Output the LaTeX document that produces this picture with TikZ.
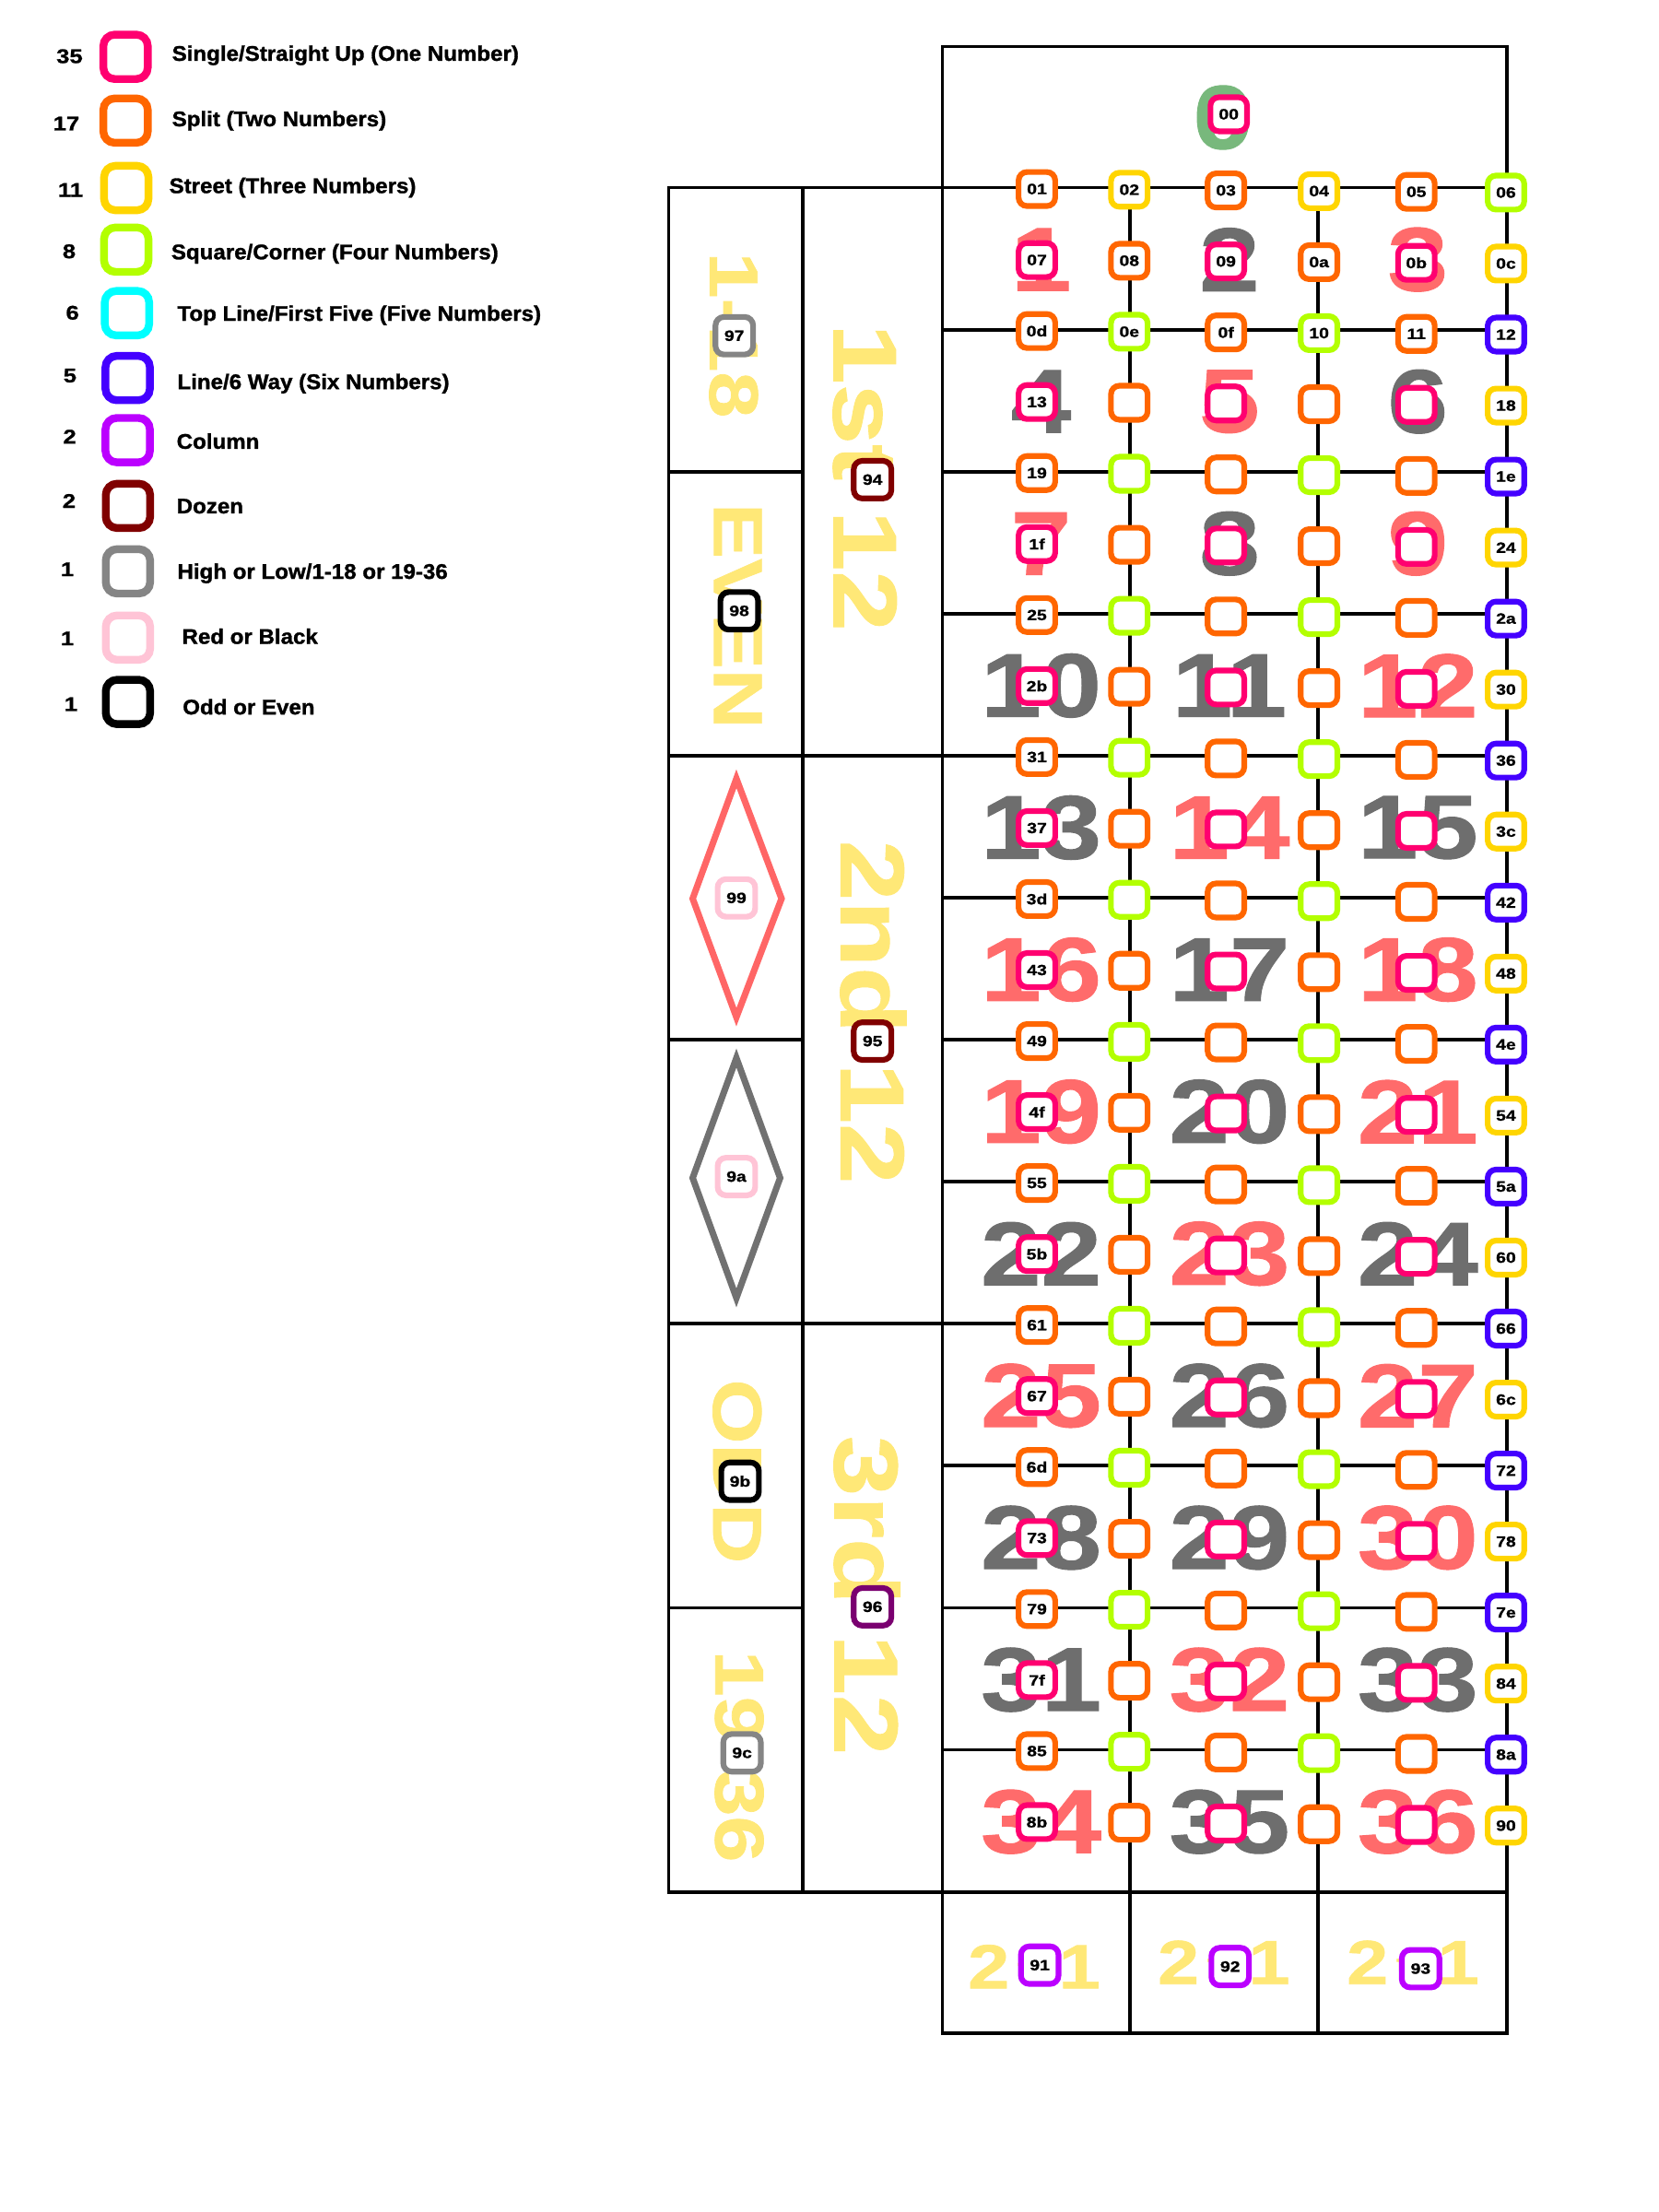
\documentclass[tikz,border=0pt]{standalone}
\usepackage{fontspec}
\setmainfont{Liberation Sans}
\newfontfamily\blk[FakeStretch=1.2,FakeBold=1]{Liberation Sans}
\newfontfamily\leg[FakeStretch=1.05,FakeBold=1.3]{Liberation Sans}
\newcommand\myfs[1]{\fontsize{#1}{#1}\selectfont}
\definecolor{cSingle}{HTML}{FF0070}
\definecolor{cSplit}{HTML}{FF6600}
\definecolor{cStreet}{HTML}{FFD500}
\definecolor{cCorner}{HTML}{B3FF00}
\definecolor{cFive}{HTML}{00FFFF}
\definecolor{cLine}{HTML}{4400FF}
\definecolor{cColumn}{HTML}{BB00FF}
\definecolor{cDozen}{HTML}{800000}
\definecolor{cDozenB}{HTML}{7A0070}
\definecolor{cHigh}{HTML}{858585}
\definecolor{cRB}{HTML}{FFC4D6}
\definecolor{cNumRed}{HTML}{FF6B6B}
\definecolor{cNumBlk}{HTML}{6E6E6E}
\definecolor{cZero}{HTML}{78B87C}
\definecolor{cYel}{HTML}{FFE877}
\definecolor{cDiaR}{HTML}{FF6666}
\definecolor{cDiaB}{HTML}{717171}
\begin{document}
\begin{tikzpicture}[x=0.0153061cm,y=-0.0153061cm,
  bet/.style={draw=#1, fill=white, line width=1.75pt, rounded corners=2.6pt,
    minimum width=11.3pt, minimum height=10.5pt, inner sep=0pt,
    font=\blk\bfseries\myfs{4.6}},
  sbet/.style={bet=#1, minimum width=11.6pt, minimum height=11.6pt},
  legbox/.style={draw=#1, fill=white, line width=2.4pt, rounded corners=3.5pt,
    minimum size=13.7pt, inner sep=0pt},
  tbl/.style={line width=1.1pt},
  bignum/.style={text=#1, inner sep=0pt, font=\blk\bfseries\myfs{27.9}},
  vtxt/.style={text=cYel, rotate=-90, inner sep=0pt, font=\blk\bfseries\myfs{#1}},
  coltxt/.style={text=cYel, inner sep=0pt, font=\blk\bfseries\myfs{19.2}},
  legtxt/.style={anchor=base west, inner sep=0pt, font=\leg\bfseries\myfs{6.53}},
  legcnt/.style={anchor=base, inner sep=0pt, font=\blk\bfseries\myfs{6.1}},
  diamond/.style={line width=2pt, line join=miter}
]
\fill[white] (0,0) rectangle (1176,1568);
\useasboundingbox (0,0) rectangle (1176,1568);

% ---------------- legend ----------------
\node[legbox=cSingle] (lb1) at (89,40.3) {};
\node[legcnt] (lc1) at (49.3,44.7) {35};
\node[legtxt] (lt1) at (121.5,43.1) {Single/Straight Up (One Number)};
\node[legbox=cSplit] (lb2) at (89,85.5) {};
\node[legcnt] (lc2) at (47,92.4) {17};
\node[legtxt] (lt2) at (121.5,89.5) {Split (Two Numbers)};
\node[legbox=cStreet] (lb3) at (89.5,133.3) {};
\node[legcnt] (lc3) at (50,139.5) {11};
\node[legtxt] (lt3) at (119.5,136.9) {Street (Three Numbers)};
\node[legbox=cCorner] (lb4) at (89.5,177) {};
\node[legcnt] (lc4) at (49,183) {8};
\node[legtxt] (lt4) at (121,183.8) {Square/Corner (Four Numbers)};
\node[legbox=cFive] (lb5) at (90,222) {};
\node[legcnt] (lc5) at (51.4,226.5) {6};
\node[legtxt] (lt5) at (125.3,227.4) {Top Line/First Five (Five Numbers)};
\node[legbox=cLine] (lb6) at (90.5,268) {};
\node[legcnt] (lc6) at (49.6,271) {5};
\node[legtxt] (lt6) at (125.3,275.8) {Line/6 Way (Six Numbers)};
\node[legbox=cColumn] (lb7) at (90.5,312) {};
\node[legcnt] (lc7) at (49.4,314.4) {2};
\node[legtxt] (lt7) at (124.8,318.1) {Column};
\node[legbox=cDozen] (lb8) at (90.7,358.6) {};
\node[legcnt] (lc8) at (49,360) {2};
\node[legtxt] (lt8) at (124.8,363.9) {Dozen};
\node[legbox=cHigh] (lb9) at (90.7,405) {};
\node[legcnt] (lc9) at (47.7,408.4) {1};
\node[legtxt] (lt9) at (125.3,410.3) {High or Low/1-18 or 19-36};
\node[legbox=cRB] (lb10) at (90.7,452) {};
\node[legcnt] (lc10) at (47.7,457.4) {1};
\node[legtxt] (lt10) at (128.6,456.4) {Red or Black};
\node[legbox=black] (lb11) at (90.7,497.6) {};
\node[legcnt] (lc11) at (50.3,504) {1};
\node[legtxt] (lt11) at (129.1,506.4) {Odd or Even};

% ---------------- big numbers ----------------
\node[bignum=cZero] (n0) at (867,83.3) {0};
\foreach \n in {1,3,5,7,9,12,14,16,18,19,21,23,25,27,30,32,34,36}{
  \pgfmathtruncatemacro\nr{int((\n-1)/3)}
  \pgfmathtruncatemacro\nc{mod(\n-1,3)}
  \pgfmathsetmacro\numx{738+133.5*\nc}
  \pgfmathsetmacro\numy{184+100.67*\nr}
  \node[bignum=cNumRed] (n\n) at (\numx,\numy) {\n};
}
\foreach \n in {2,4,6,8,10,11,13,15,17,20,22,24,26,28,29,31,33,35}{
  \pgfmathtruncatemacro\nr{int((\n-1)/3)}
  \pgfmathtruncatemacro\nc{mod(\n-1,3)}
  \pgfmathsetmacro\numx{738+133.5*\nc}
  \pgfmathsetmacro\numy{184+100.67*\nr}
  \node[bignum=cNumBlk] (n\n) at (\numx,\numy) {\n};
}

% ---------------- side texts ----------------
\node[vtxt=21.3] (tLow) at (520,237.5) {1-18};
\node[vtxt=21.3] (tEven) at (523,436.7) {EVEN};
\node[vtxt=21.3] (tOdd) at (522.5,1043) {ODD};
\node[vtxt=21.3] (tHigh) at (524,1245) {19-36};
\node[vtxt=27.9] (tD1) at (613,338.5) {1st 12};
\node[vtxt=27.9] (tD2) at (619,717.5) {2nd 12};
\node[vtxt=27.9] (tD3) at (614.5,1131) {3rd 12};
\node[coltxt] (tC1) at (733,1394) {2\kern2.5pt\raisebox{3pt}{\myfs{9}to}\kern2.5pt 1};
\node[coltxt] (tC2) at (867.5,1391) {2\kern2.5pt\raisebox{3pt}{\myfs{9}to}\kern2.5pt 1};
\node[coltxt] (tC3) at (1001.5,1391) {2\kern2.5pt\raisebox{3pt}{\myfs{9}to}\kern2.5pt 1};

% ---------------- table lines ----------------
\draw[tbl] (668,1441) -- (668,33) -- (1068,33) -- (1068,1441) -- cycle;
\draw[tbl] (668,133) -- (474,133) -- (474,1341) -- (668,1341);
\draw[tbl] (569,133) -- (569,1341);
\draw[tbl] (668,133) -- (1068,133);
\draw[tbl] (668,1341) -- (1068,1341);
\foreach \yy in {535.7,938.3} \draw[tbl] (474,\yy) -- (1068,\yy);
\foreach \yy in {233.7,334.3,435,636.3,737,837.7,1039,1139.7,1240.3}
  \draw[tbl] (668,\yy) -- (1068,\yy);
\foreach \yy in {334.3,737,1139.7} \draw[tbl] (474,\yy) -- (569,\yy);
\foreach \xx in {801,934.5} \draw[tbl] (\xx,133) -- (\xx,1441);

% ---------------- diamonds ----------------
\draw[diamond, draw=cDiaR] (522,552) -- (554,637) -- (522,721) -- (491,637) -- cycle;
\draw[diamond, draw=cDiaB] (522,750) -- (553,835) -- (522,920) -- (491,835) -- cycle;

% ---------------- bet boxes ----------------
\node[bet=cSingle] (b0) at (871,81) {00};
\foreach \k in {0,...,23}{
  \foreach \j/\bx in {0/735,1/800.5,2/869,3/935,4/1004,5/1067.5}{
    \pgfmathsetmacro\by{134+50.33*\k+0.5*\j}
    \pgfmathtruncatemacro\idx{1+6*\k+\j}
    \pgfmathtruncatemacro\kp{mod(\k,2)}
    \pgfmathtruncatemacro\jp{mod(\j,2)}
    \ifnum\j=5
      \ifnum\k=0 \def\bc{cCorner}\else
        \ifnum\kp=1 \def\bc{cStreet}\else\def\bc{cLine}\fi
      \fi
    \else
      \ifnum\jp=0
        \ifnum\kp=1 \def\bc{cSingle}\else\def\bc{cSplit}\fi
      \else
        \ifnum\k=0 \def\bc{cStreet}\else
          \ifnum\kp=1 \def\bc{cSplit}\else\def\bc{cCorner}\fi
        \fi
      \fi
    \fi
    \pgfmathdectobase\hx{\idx}{16}
    \ifnum\idx<16 \edef\hx{0\hx}\fi
    \def\lab{}
    \ifnum\k<3 \def\lab{\hx}\fi
    \ifnum\j=0 \def\lab{\hx}\fi
    \ifnum\j=5 \def\lab{\hx}\fi
    \node[bet=\bc] (b\idx) at (\bx,\by) {\lab};
  }
}
\node[sbet=cColumn] (b145) at (737,1393) {91};
\node[sbet=cColumn] (b146) at (872,1394) {92};
\node[sbet=cColumn] (b147) at (1007,1395.5) {93};
\node[sbet=cDozen] (b148) at (618.5,340) {94};
\node[sbet=cDozen] (b149) at (618.5,738) {95};
\node[sbet=cDozenB] (b150) at (618.5,1139) {96};
\node[sbet=cHigh] (b151) at (520.5,238) {97};
\node[sbet=black] (b152) at (524,433) {98};
\node[sbet=cRB] (b153) at (522,636.5) {99};
\node[sbet=cRB] (b154) at (522,834) {9a};
\node[sbet=black] (b155) at (524.6,1050) {9b};
\node[sbet=cHigh] (b156) at (526,1242.5) {9c};
\end{tikzpicture}
\end{document}
